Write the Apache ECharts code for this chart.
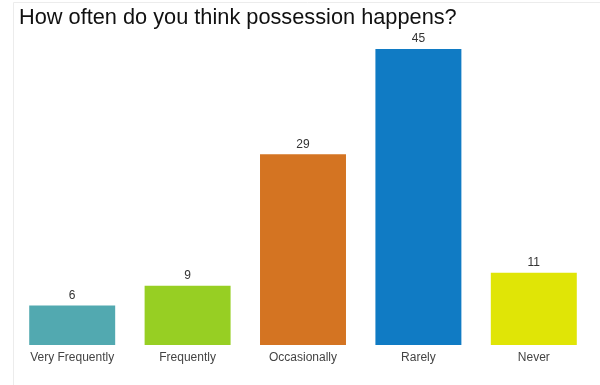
<!DOCTYPE html>
<html><head><meta charset="utf-8">
<script src="https://cdn.jsdelivr.net/npm/echarts@6/dist/echarts.min.js"></script>
<style>html,body{margin:0;padding:0;background:#fff}#c{width:600px;height:385px}</style>
</head><body><div id="c"></div>
<script>
const categories = ["Very Frequently", "Frequently", "Occasionally", "Rarely", "Never"];
const values = [6, 9, 29, 45, 11];
const colors = ["#52A9B0", "#97CF23", "#D47422", "#107BC4", "#E0E506"];
const titleText = "How often do you think possession happens?";

const chart = echarts.init(document.getElementById('c'), null, {renderer: 'canvas'});
chart.setOption({
  animation: false,
  backgroundColor: '#fff',
  graphic: [{
    type: 'rect', z: -1,
    shape: {x: 13.5, y: 2.5, width: 620, height: 400},
    style: {fill: 'none', stroke: '#ececec', lineWidth: 1}
  }],
  title: {
    text: titleText, left: 14, top: 2,
    textStyle: {fontFamily: 'Liberation Sans, Arial, sans-serif', fontSize: 21.75, fontWeight: 'normal', color: '#111'}
  },
  grid: {left: 14.5, right: 8.5, top: 49, bottom: 40, containLabel: false},
  xAxis: {
    type: 'category', data: categories,
    axisLine: {show: false}, axisTick: {show: false},
    axisLabel: {color: '#444', fontSize: 12, fontFamily: 'Liberation Sans, Arial, sans-serif', margin: 7, interval: 0}
  },
  yAxis: {
    type: 'value', min: 0, max: 45, show: false,
    splitLine: {show: false}
  },
  series: [{
    type: 'bar', barWidth: '74.5%',
    data: values.map((v, i) => ({value: v, itemStyle: {color: colors[i]}})),
    label: {show: true, position: 'top', distance: 4, color: '#333', fontSize: 12, fontFamily: 'Liberation Sans, Arial, sans-serif'}
  }]
});
</script></body></html>
